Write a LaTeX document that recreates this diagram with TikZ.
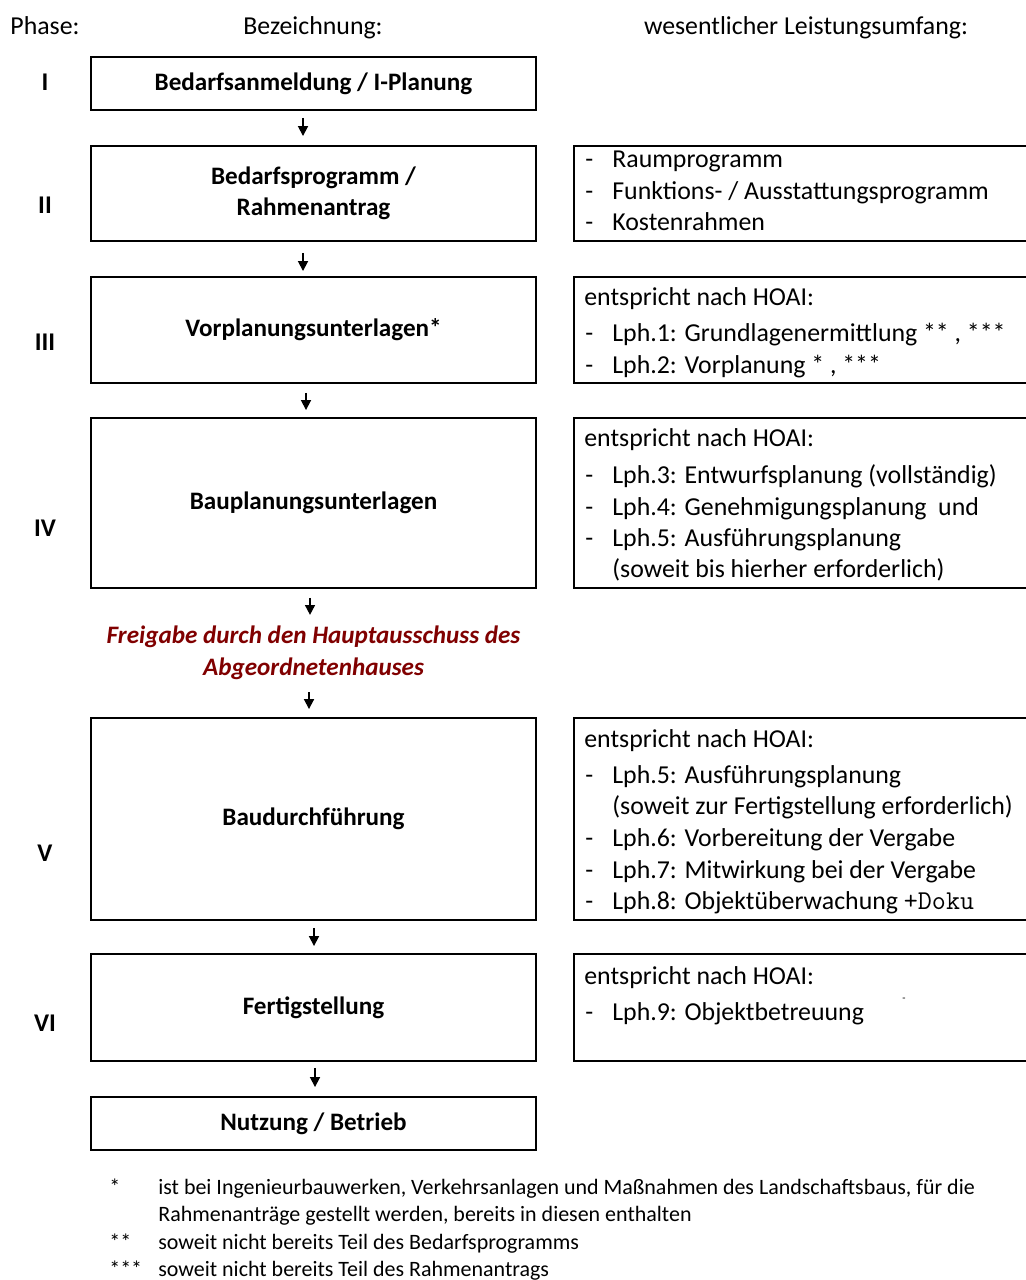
\documentclass[tikz,border=0pt]{standalone}
\usepackage{fontspec}
\setmainfont{Carlito}
\usetikzlibrary{arrows.meta}
\definecolor{dunkelrot}{RGB}{128,0,0}
\tikzset{
	kasten/.style={draw, line width=1.1pt, inner sep=0pt, minimum width=8.9cm, align=center, font=\fontsize{14.3}{17.6}\selectfont\bfseries},
	leistung/.style={draw, line width=1.1pt, inner sep=0pt, minimum width=9.32cm},
	zeile/.style={anchor=base west, inner sep=0pt, font=\fontsize{14.7}{17}\selectfont},
	kopf/.style={anchor=base, inner sep=0pt, font=\fontsize{14.7}{17}\selectfont},
	phase/.style={inner sep=0pt, font=\fontsize{14.5}{16}\selectfont\bfseries},
	freigabe/.style={inner sep=0pt, align=center, text=dunkelrot, font=\fontsize{14.3}{18}\selectfont\bfseries\itshape},
	fussnote/.style={anchor=base west, inner sep=0pt, font=\fontsize{12.5}{15}\selectfont},
	pfeil/.style={-{Triangle[width=5.6pt, length=5.6pt]}, line width=1pt}
}

\begin{document}
\begin{tikzpicture}[x=0.02cm, y=-0.02cm]
	%%%%% START %%%%%
	\useasboundingbox (0, 0) rectangle (1026, 1280);
	
	\node[kopf] (kphase) at (45, 35) {Phase:};
	\node[kopf] (kbez) at (313, 35) {Bezeichnung:};
	\node[kopf] (kleist) at (806, 35) {wesentlicher Leistungsumfang:};
	
	\node[phase] (p1) at (45, 82) {I};
	\node[phase] (p2) at (45, 205) {II};
	\node[phase] (p3) at (45, 342) {III};
	\node[phase] (p4) at (45, 528) {IV};
	\node[phase] (p5) at (45, 853) {V};
	\node[phase] (p6) at (45, 1023) {VI};
	
	\node[kasten, minimum height=1.06cm] (b1) at (313.5, 83.5) {Bedarfsanmeldung / I-Planung};
	\node[kasten, minimum height=1.9cm] (b2) at (313.5, 193.5) {Bedarfsprogramm /\\Rahmenantrag};
	\node[kasten, minimum height=2.12cm] (b3) at (313.5, 330) {Vorplanungsunterlagen*};
	\node[kasten, minimum height=3.4cm] (b4) at (313.5, 503) {Bauplanungsunterlagen};
	\node[freigabe] (frei) at (313.5, 653) {Freigabe durch den Hauptausschuss des\\Abgeordnetenhauses};
	\node[kasten, minimum height=4.04cm] (b5) at (313.5, 819) {Baudurchführung};
	\node[kasten, minimum height=2.14cm] (b6) at (313.5, 1007.5) {Fertigstellung};
	\node[kasten, minimum height=1.06cm] (b7) at (313.5, 1123.5) {Nutzung / Betrieb};
	
	\draw[pfeil, shorten <=0.14cm, shorten >=0.18cm] ([xshift=-0.21cm]b1.south) -- ([xshift=-0.21cm]b2.north);
	\draw[pfeil, shorten <=0.22cm, shorten >=0.1cm] ([xshift=-0.21cm]b2.south) -- ([xshift=-0.21cm]b3.north);
	\draw[pfeil, shorten <=0.18cm, shorten >=0.14cm] ([xshift=-0.15cm]b3.south) -- ([xshift=-0.15cm]b4.north);
	\draw[pfeil, shorten <=0.18cm, shorten >=0.22cm] ([xshift=-0.07cm]b4.south) -- ([xshift=-0.07cm]frei.north);
	\draw[pfeil, shorten <=0.24cm, shorten >=0.16cm] ([xshift=-0.09cm]frei.south) -- ([xshift=-0.09cm]b5.north);
	\draw[pfeil, shorten <=0.14cm, shorten >=0.14cm] ([xshift=0.01cm]b5.south) -- ([xshift=0.01cm]b6.north);
	\draw[pfeil, shorten <=0.12cm, shorten >=0.18cm] ([xshift=0.03cm]b6.south) -- ([xshift=0.03cm]b7.north);
	
	\node[leistung, minimum height=1.9cm] (r2) at (807, 193.5) {};
	\node[leistung, minimum height=2.12cm] (r3) at (807, 330) {};
	\node[leistung, minimum height=3.4cm] (r4) at (807, 503) {};
	\node[leistung, minimum height=4.04cm] (r5) at (807, 819) {};
	\node[leistung, minimum height=2.14cm] (r6) at (807, 1007.5) {};
	
	\node[zeile] (r2s1) at (585, 168) {-};
	\node[zeile] (r2t1) at (612, 168) {Raumprogramm};
	\node[zeile] (r2s2) at (585, 200) {-};
	\node[zeile] (r2t2) at (612, 200) {Funktions- / Ausstattungsprogramm};
	\node[zeile] (r2s3) at (585, 231) {-};
	\node[zeile] (r2t3) at (612, 231) {Kostenrahmen};
	
	\node[zeile] (r3k) at (584, 305) {entspricht nach HOAI:};
	\node[zeile] (r3s1) at (585, 341) {-};
	\node[zeile] (r3t1) at (612, 341) {Lph.1: Grundlagenermittlung ** , ***};
	\node[zeile] (r3s2) at (585, 373) {-};
	\node[zeile] (r3t2) at (612, 373) {Lph.2: Vorplanung * , ***};
	
	\node[zeile] (r4k) at (584, 446) {entspricht nach HOAI:};
	\node[zeile] (r4s1) at (585, 483) {-};
	\node[zeile] (r4t1) at (612, 483) {Lph.3: Entwurfsplanung (vollständig)};
	\node[zeile] (r4s2) at (585, 515) {-};
	\node[zeile] (r4t2) at (612, 515) {Lph.4: Genehmigungsplanung\ \ und};
	\node[zeile] (r4s3) at (585, 546) {-};
	\node[zeile] (r4t3) at (612, 546) {Lph.5: Ausführungsplanung};
	\node[zeile] (r4t4) at (612, 577) {(soweit bis hierher erforderlich)};
	
	\node[zeile] (r5k) at (584, 747) {entspricht nach HOAI:};
	\node[zeile] (r5s1) at (585, 783) {-};
	\node[zeile] (r5t1) at (612, 783) {Lph.5: Ausführungsplanung};
	\node[zeile] (r5t2) at (612, 814) {(soweit zur Fertigstellung erforderlich)};
	\node[zeile] (r5s3) at (585, 846) {-};
	\node[zeile] (r5t3) at (612, 846) {Lph.6: Vorbereitung der Vergabe};
	\node[zeile] (r5s4) at (585, 878) {-};
	\node[zeile] (r5t4) at (612, 878) {Lph.7: Mitwirkung bei der Vergabe};
	\node[zeile] (r5s5) at (585, 909) {-};
	\node[zeile] (r5t5) at (612, 909) {Lph.8: Objektüberwachung {\ttfamily\fontsize{15.5}{17}\selectfont +Doku}};
	
	\node[zeile] (r6k) at (584, 984) {entspricht nach HOAI:};
	\node[zeile] (r6s1) at (585, 1020) {-};
	\node[zeile] (r6t1) at (612, 1020) {Lph.9: Objektbetreuung};
	\node[inner sep=0pt, font=\fontsize{6}{7}\selectfont] (r6rest) at (904, 1000) {-};
	
	\node[fussnote] (f1m) at (109, 1194) {*};
	\node[fussnote] (f1a) at (158, 1194) {ist bei Ingenieurbauwerken, Verkehrsanlagen und Maßnahmen des Landschaftsbaus, für die};
	\node[fussnote] (f1b) at (158, 1221) {Rahmenanträge gestellt werden, bereits in diesen enthalten};
	\node[fussnote] (f2m) at (109, 1249) {**};
	\node[fussnote] (f2a) at (158, 1249) {soweit nicht bereits Teil des Bedarfsprogramms};
	\node[fussnote] (f3m) at (109, 1276) {***};
	\node[fussnote] (f3a) at (158, 1276) {soweit nicht bereits Teil des Rahmenantrags};
	
	%%%%% END %%%%%
\end{tikzpicture}
\end{document}
